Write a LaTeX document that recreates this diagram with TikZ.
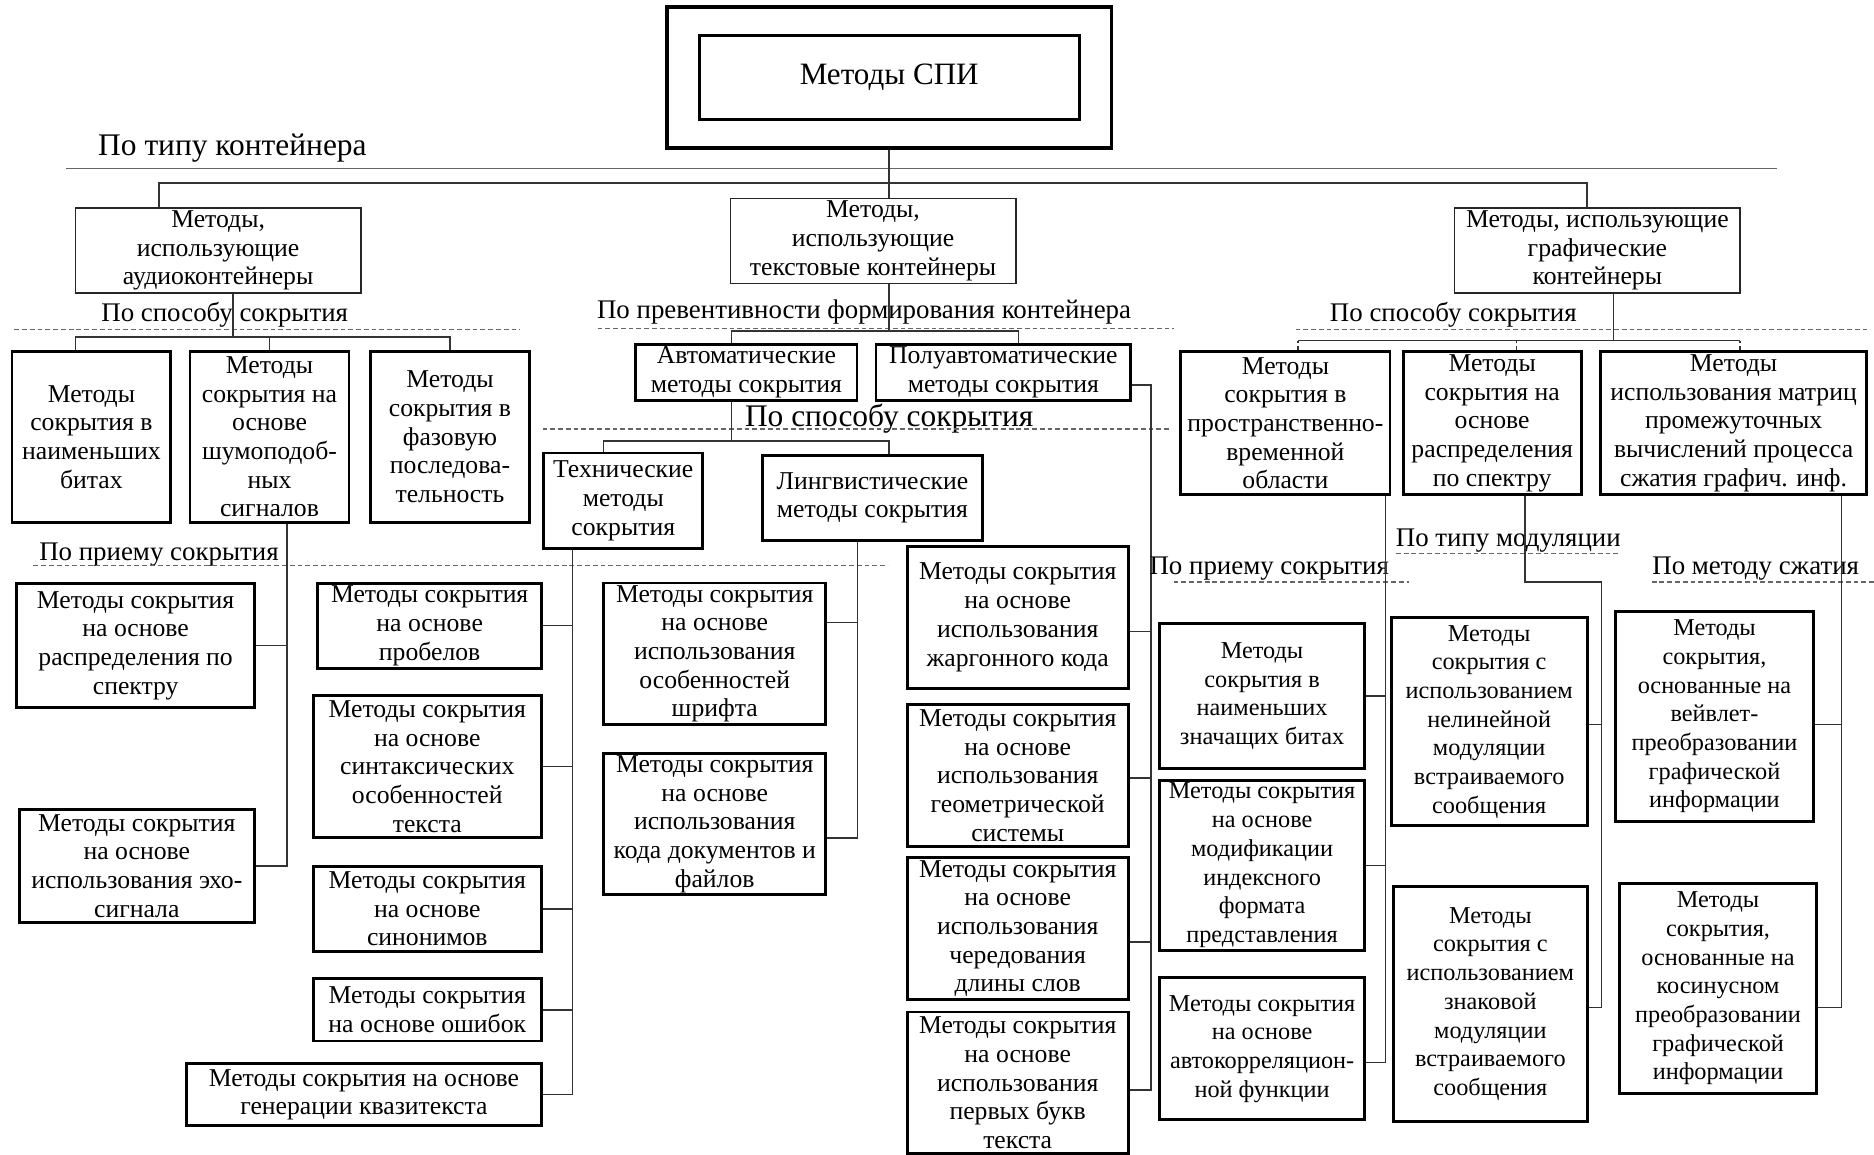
\documentclass[tikz,border=0pt]{standalone}
\usepackage{fontspec}
\setmainfont{Liberation Serif}

\begin{document}
\begin{tikzpicture}[x=1pt,y=-1pt]
  \tikzstyle{every node}=[font=\fontsize{21.5}{24}\selectfont]
  \tikzstyle{bbox}=[draw, line width=2.4pt, inner sep=0pt, align=center]
  \tikzstyle{tbox}=[draw=black!85, line width=1.2pt, inner sep=0pt, align=center, minimum width=239pt, minimum height=71pt]
  \tikzstyle{lbl}=[inner sep=0pt, font=\fontsize{22.5}{26}\selectfont]
  \tikzstyle{biglbl}=[inner sep=0pt, font=\fontsize{26.3}{30}\selectfont]
  \tikzstyle{narrow}=[font=\fontsize{20.3}{24}\selectfont]
  \tikzstyle{link}=[line width=1.2pt, black!80]
  \tikzstyle{sep}=[line width=1pt, black!60, dash pattern=on 4pt off 2.5pt]
  \useasboundingbox (0,0) rectangle (1568,966);

  % root
  \node[bbox, line width=3pt, minimum width=372pt, minimum height=118pt] (spi) at (744,65) {};
  \node[bbox, minimum width=318pt, minimum height=70pt, font=\fontsize{26}{30}\selectfont] (spiin) at (744,65) {Методы СПИ};
  \node[biglbl, anchor=west] (tiplbl) at (82,124) {По типу контейнера};
  \draw[line width=1pt, black!60] (55,141) -- (1487,141);

  % containers
  \node[tbox] (aud) at (182.5,209.5) {Методы,\\ использующие\\ аудиоконтейнеры};
  \node[tbox] (txt) at (730.5,201.5) {Методы,\\ использующие\\ текстовые контейнеры};
  \node[tbox] (gra) at (1336.5,209.5) {Методы, использующие\\ графические\\ контейнеры};
  \coordinate (bus0) at (744,153);
  \draw[link] (spi.south) -- (spi.south |- txt.north);
  \draw[link] ([xshift=-49.5pt]aud.north) |- (bus0) -| ([xshift=-8.5pt]gra.north);

  % audio
  \node[lbl] (audlbl) at (188,263) {По способу сокрытия};
  \draw[sep] (12,276) -- (435,276);
  \tikzstyle{abox}=[bbox, minimum width=133pt, minimum height=143pt]
  \node[abox] (a1) at (76.5,365.5) {Методы\\ сокрытия в\\ наименьших\\ битах};
  \node[abox] (a2) at (225.5,365.5) {Методы\\ сокрытия на\\ основе\\ шумоподоб-\\ ных\\ сигналов};
  \node[abox] (a3) at (376.5,365.5) {Методы\\ сокрытия в\\ фазовую\\ последова-\\ тельность};
  \coordinate (abus) at (195,282);
  \draw[link] ([xshift=12.5pt]aud.south) -- (abus);
  \draw[link] ([xshift=-13.5pt]a1.north) |- (abus) -| (a3.north);
  \draw[link] (a2.north) -- (a2.north |- abus);
  \node[lbl] (prlbl) at (133,464) {По приему сокрытия};
  \draw[sep] (28,473) -- (743,473);
  \node[bbox, minimum width=199pt, minimum height=104pt] (b1) at (113.5,540) {Методы сокрытия\\ на основе\\ распределения по\\ спектру};
  \node[bbox, minimum width=197pt, minimum height=95pt] (b2) at (114.5,724.5) {Методы сокрытия\\ на основе\\ использования эхо-\\ сигнала};
  \draw[link] ([xshift=14.5pt]a2.south) |- (b2.east);
  \draw[link] (b1.east) -- (b1.east -| 240,0);

  % text
  \node[lbl] (prevlbl) at (723,261) {По превентивности формирования контейнера};
  \draw[sep] (500,275) -- (982,275);
  \node[bbox, minimum width=185pt, minimum height=47pt] (auto) at (624.5,311.5) {Автоматические\\ методы сокрытия};
  \node[bbox, minimum width=213pt, minimum height=47pt] (semi) at (839.5,311.5) {Полуавтоматические\\ методы сокрытия};
  \coordinate (tbus) at (744,277);
  \draw[link] ([xshift=13.5pt]txt.south) -- (tbus);
  \draw[link] ([xshift=-12.5pt]auto.north) |- (tbus) -| ([xshift=12.5pt]semi.north);

  \node[biglbl] (sposlbl) at (744,350) {По способу сокрытия};
  \draw[sep] (454,359) -- (980,359);
  \node[bbox, minimum width=133pt, minimum height=80pt] (tech) at (521.5,419) {Технические\\ методы\\ сокрытия};
  \node[bbox, minimum width=184pt, minimum height=71pt] (ling) at (730,416.5) {Лингвистические\\ методы сокрытия};
  \coordinate (sbus) at (612,369);
  \draw[link] ([xshift=-12.5pt]auto.south) -- (sbus);
  \draw[link] ([xshift=-16.5pt]tech.north) |- (sbus) -| ([xshift=14pt]ling.north);

  \tikzstyle{tcol}=[bbox, minimum width=191pt]
  \node[tcol, minimum width=187pt, minimum height=71pt] (t1) at (359.5,523.5) {Методы сокрытия\\ на основе\\ пробелов};
  \node[tcol, minimum height=119pt] (t2) at (357.5,641.5) {Методы сокрытия\\ на основе\\ синтаксических\\ особенностей\\ текста};
  \node[tcol, minimum height=71pt] (t3) at (357.5,760.5) {Методы сокрытия\\ на основе\\ синонимов};
  \node[tcol, minimum height=52pt] (t4) at (357.5,845) {Методы сокрытия\\ на основе ошибок};
  \node[tcol, minimum width=297pt, minimum height=52pt] (t5) at (304.5,916) {Методы сокрытия на основе\\ генерации квазитекста};
  \coordinate (tv) at ([xshift=-42.5pt]tech.south);
  \draw[link] (tv) |- (t5.east);
  \foreach \n in {t1,t2,t3,t4}
    \draw[link] (\n.east) -- (\n.east -| tv);

  \tikzstyle{lcol}=[bbox, minimum width=186pt, minimum height=118.5pt]
  \node[lcol] (l1) at (598,547) {Методы сокрытия\\ на основе\\ использования\\ особенностей\\ шрифта};
  \node[lcol] (l2) at (598,689.5) {Методы сокрытия\\ на основе\\ использования\\ кода документов и\\ файлов};
  \coordinate (lv) at ([xshift=-12.5pt]ling.south);
  \draw[link] (lv) |- ([yshift=-11.5pt]l2.east);
  \draw[link] ([yshift=26pt]l1.east) -- ([yshift=26pt]l1.east -| lv);

  \tikzstyle{jcol}=[bbox, minimum width=185pt, minimum height=118.5pt]
  \node[jcol] (j1) at (851.5,516.5) {Методы сокрытия\\ на основе\\ использования\\ жаргонного кода};
  \node[jcol] (j2) at (851.5,649) {Методы сокрытия\\ на основе\\ использования\\ геометрической\\ системы};
  \node[jcol] (j3) at (851.5,777) {Методы сокрытия\\ на основе\\ использования\\ чередования\\ длины слов};
  \node[jcol] (j4) at (851.5,906) {Методы сокрытия\\ на основе\\ использования\\ первых букв\\ текста};
  \coordinate (sv) at (963,912);
  \draw[link] ([yshift=-10.5pt]semi.east) -| (sv) -- ([yshift=-6pt]j4.east);
  \draw[link] ([yshift=-12pt]j1.east) -- ([yshift=-12pt]j1.east -| sv);
  \draw[link] ([yshift=-2pt]j2.east) -- ([yshift=-2pt]j2.east -| sv);
  \draw[link] ([yshift=-11pt]j3.east) -- ([yshift=-11pt]j3.east -| sv);

  % graphic
  \node[lbl] (gralbl) at (1216,263) {По способу сокрытия};
  \draw[sep] (1084,276) -- (1564,276);
  \tikzstyle{gbox}=[bbox, minimum height=120pt]
  \node[gbox, minimum width=175pt] (g1) at (1075.5,354) {Методы\\ сокрытия в\\ пространственно-\\ временной\\ области};
  \node[gbox, minimum width=149pt] (g2) at (1248.5,354) {Методы\\ сокрытия на\\ основе\\ распределения\\ по спектру};
  \node[gbox, minimum width=223pt] (g3) at (1450.5,354) {Методы\\ использования матриц\\ промежуточных\\ вычислений процесса\\ сжатия графич. инф.};
  \coordinate (gbus) at (1350,285);
  \draw[link] ([xshift=13.5pt]gra.south) -- (gbus);
  \draw[link] ([xshift=10.5pt]g1.north |- gbus) -- ([xshift=5.5pt]g3.north |- gbus);
  \draw[link, dashed] ([xshift=10.5pt]g1.north) -- ([xshift=10.5pt]g1.north |- gbus);
  \draw[link, dashed] ([xshift=20.5pt]g2.north) -- ([xshift=20.5pt]g2.north |- gbus);
  \draw[link, dashed] ([xshift=5.5pt]g3.north) -- ([xshift=5.5pt]g3.north |- gbus);

  \node[lbl] (prlbl2) at (1062,476) {По приему сокрытия};
  \draw[sep] (982,487) -- (1179,487);
  \tikzstyle{pcol}=[bbox, narrow, minimum width=172pt]
  \node[pcol, minimum height=121pt] (p1) at (1056,582.5) {Методы\\ сокрытия в\\ наименьших\\ значащих битах};
  \node[pcol, minimum height=142pt] (p2) at (1056,724) {Методы сокрытия\\ на основе\\ модификации\\ индексного\\ формата\\ представления};
  \node[pcol, minimum height=119pt] (p3) at (1056,877.5) {Методы сокрытия\\ на основе\\ автокорреляцион-\\ ной функции};
  \coordinate (pv) at ([xshift=-5pt]g1.south east);
  \draw[link] (pv) |- ([yshift=-11.5pt]p3.east);
  \foreach \n in {p1,p2}
    \draw[link] (\n.east) -- (\n.east -| pv);

  \node[lbl] (modlbl) at (1262,452) {По типу модуляции};
  \draw[sep] (1168,463) -- (1356,463);
  \node[bbox, narrow, minimum width=164pt, minimum height=174pt] (m1) at (1246,604) {Методы\\ сокрытия с\\ использованием\\ нелинейной\\ модуляции\\ встраиваемого\\ сообщения};
  \node[bbox, narrow, minimum width=162pt, minimum height=196pt] (m2) at (1247,840) {Методы\\ сокрытия с\\ использованием\\ знаковой\\ модуляции\\ встраиваемого\\ сообщения};
  \coordinate (mv) at (1340,487);
  \draw[link] ([xshift=27.5pt]g2.south) |- (mv) |- ([yshift=-3pt]m2.east);
  \draw[link] ([yshift=-2pt]m1.east) -- ([yshift=-2pt]m1.east -| mv);

  \node[lbl] (cmplbl) at (1469,476) {По методу сжатия};
  \draw[sep] (1382,487) -- (1568,487);
  \tikzstyle{ccol}=[bbox, narrow, minimum width=165pt, minimum height=175.5pt]
  \node[ccol] (c1) at (1434.5,599.5) {Методы\\ сокрытия,\\ основанные на\\ вейвлет-\\ преобразовании\\ графической\\ информации};
  \node[ccol] (c2) at (1437.5,827) {Методы\\ сокрытия,\\ основанные на\\ косинусном\\ преобразовании\\ графической\\ информации};
  \coordinate (cv) at ([xshift=90.5pt]g3.south);
  \draw[link] (cv) |- ([yshift=-16pt]c2.east);
  \draw[link] ([yshift=-6.5pt]c1.east) -- ([yshift=-6.5pt]c1.east -| cv);
\end{tikzpicture}
\end{document}
